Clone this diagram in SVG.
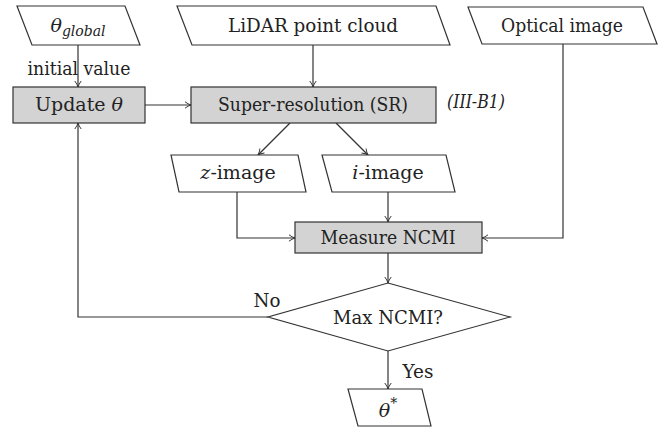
<svg xmlns="http://www.w3.org/2000/svg" width="669" height="430" viewBox="0 0 669 430">
<style>
.shape{fill:#fff;stroke:#333;stroke-width:1.2}
.proc{fill:#d3d3d3;stroke:#333;stroke-width:1.2}
.t{font-family:'DejaVu Serif','Liberation Serif',serif;font-size:19px;fill:#222;text-anchor:middle}
.it{font-style:italic}
.conn{fill:none;stroke:#333;stroke-width:1.2}
</style>
<defs>
<marker id="arr" viewBox="0 0 10 10" refX="9.5" refY="5" markerWidth="8" markerHeight="8" markerUnits="userSpaceOnUse" orient="auto">
<path d="M2,1 Q6,4 9.5,5 Q6,6 2,9" fill="none" stroke="#333" stroke-width="1.2"/>
</marker>
</defs>
<g id="connectors">
<path class="conn" d="M78,45 V87" marker-end="url(#arr)"/>
<path class="conn" d="M145,105 H191" marker-end="url(#arr)"/>
<path class="conn" d="M313,45 V87" marker-end="url(#arr)"/>
<path class="conn" d="M290,123 L258,155" marker-end="url(#arr)"/>
<path class="conn" d="M336,123 L368,155" marker-end="url(#arr)"/>
<path class="conn" d="M237,192 V238 H295" marker-end="url(#arr)"/>
<path class="conn" d="M388,192 V222" marker-end="url(#arr)"/>
<path class="conn" d="M563,44 V238 H482" marker-end="url(#arr)"/>
<path class="conn" d="M388,253 V283" marker-end="url(#arr)"/>
<path class="conn" d="M268,317 H78 V123" marker-end="url(#arr)"/>
<path class="conn" d="M388,351 V389" marker-end="url(#arr)"/>
<text class="t" x="79" y="75" textLength="103" lengthAdjust="spacingAndGlyphs">initial  value</text>
<text class="t" x="267" y="307" textLength="27" lengthAdjust="spacingAndGlyphs">No</text>
<text class="t" x="418" y="378" textLength="31" lengthAdjust="spacingAndGlyphs">Yes</text>
</g>
<g id="theta-global">
<polygon class="shape" points="17,6 125,6 140,45 32,45"/>
<text class="t it" x="78" y="32">θ<tspan font-size="14" dy="4">global</tspan></text>
</g>
<g id="lidar">
<polygon class="shape" points="177,6 436,6 450,45 192,45"/>
<text class="t" x="313" y="32" textLength="170" lengthAdjust="spacingAndGlyphs">LiDAR point cloud</text>
</g>
<g id="optical">
<polygon class="shape" points="468,7 643,7 657,44 482,44"/>
<text class="t" x="562" y="32" textLength="122" lengthAdjust="spacingAndGlyphs">Optical image</text>
</g>
<g id="update">
<rect class="proc" x="13" y="87" width="132" height="36"/>
<text class="t" x="79" y="111">Update <tspan class="it">θ</tspan></text>
</g>
<g id="sr">
<rect class="proc" x="191" y="87" width="245" height="36"/>
<text class="t" x="313" y="111" textLength="190" lengthAdjust="spacingAndGlyphs">Super-resolution (SR)</text>
<text class="t it" x="476" y="108" font-size="15" textLength="58" lengthAdjust="spacingAndGlyphs">(III-B1)</text>
</g>
<g id="z-image">
<polygon class="shape" points="171,155 298,155 306,192 179,192"/>
<text class="t" x="238" y="179"><tspan class="it">z</tspan>-image</text>
</g>
<g id="i-image">
<polygon class="shape" points="322,155 446,155 455,192 332,192"/>
<text class="t" x="388" y="179"><tspan class="it">i</tspan>-image</text>
</g>
<g id="measure">
<rect class="proc" x="295" y="222" width="187" height="31"/>
<text class="t" x="388" y="244" textLength="135" lengthAdjust="spacingAndGlyphs">Measure NCMI</text>
</g>
<g id="decision">
<polygon class="shape" points="388,283 510,317 388,351 268,317"/>
<text class="t" x="388" y="324" textLength="110" lengthAdjust="spacingAndGlyphs">Max NCMI?</text>
</g>
<g id="theta-star">
<polygon class="shape" points="348,389 422,389 431,426 358,426"/>
<text class="t it" x="388" y="417">θ<tspan font-style="normal" font-size="14" dy="-9">*</tspan></text>
</g>
</svg>
